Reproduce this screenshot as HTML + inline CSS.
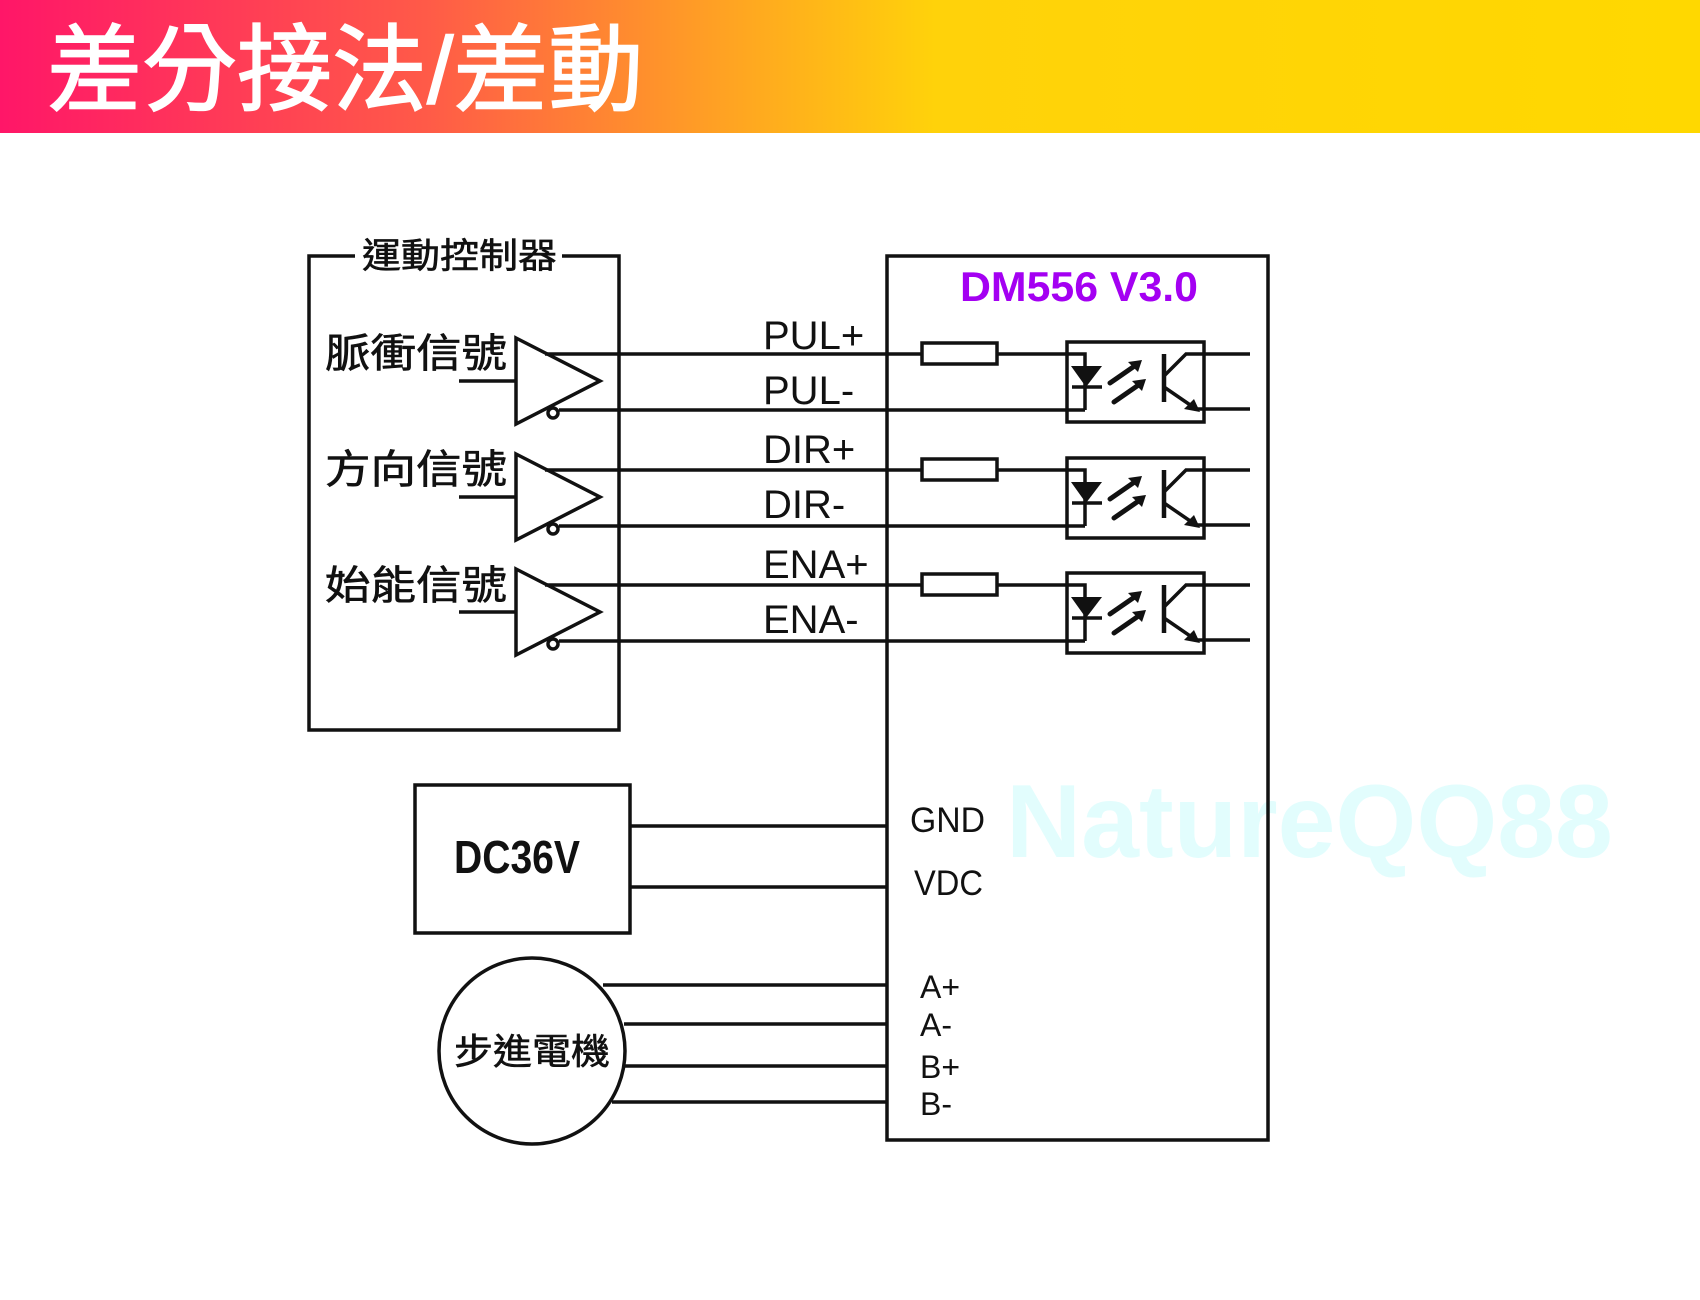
<!DOCTYPE html>
<html><head><meta charset="utf-8"><style>
html,body{margin:0;padding:0;background:#fff;}
body{width:1700px;height:1300px;overflow:hidden;position:relative;font-family:"Liberation Sans","Noto Sans CJK TC",sans-serif;}
.bar{position:absolute;left:0;top:0;width:1700px;height:133px;background:linear-gradient(90deg,#ff1668 0%,#ff5a48 25%,#ffa024 42%,#ffd20a 55%,#ffd800 100%);}
.title{position:absolute;left:47px;top:16px;font-size:95px;color:#fff;font-family:"Liberation Sans","Noto Sans CJK TC",sans-serif;white-space:nowrap;line-height:110px;-webkit-text-stroke:1.5px #fff;}
svg{position:absolute;left:0;top:0;}
</style></head><body>
<div class="bar"></div>
<div class="title">差分接法/差動</div>
<svg width="1700" height="1300" viewBox="0 0 1700 1300" xmlns="http://www.w3.org/2000/svg" font-family="Liberation Sans, Noto Sans CJK TC, sans-serif">
<text x="1006" y="857" font-size="104" font-weight="bold" fill="#e2fdfd">NatureQQ88</text>
<g stroke="#111" stroke-width="3.5" fill="none">
<polyline points="355,256 309,256 309,730 619,730 619,256 562,256"/>
<rect x="887" y="256" width="381" height="884"/>
<rect x="415" y="785" width="215" height="148"/>
<line x1="630" y1="826" x2="887" y2="826"/>
<line x1="630" y1="887" x2="887" y2="887"/>
<circle cx="532" cy="1051" r="93"/>
<line x1="603" y1="985" x2="887" y2="985"/>
<line x1="624" y1="1024" x2="887" y2="1024"/>
<line x1="624" y1="1066" x2="887" y2="1066"/>
<line x1="612" y1="1102" x2="887" y2="1102"/>
</g>
<defs>
<g id="row">
<g stroke="#111" stroke-width="3.5" fill="none">
<line x1="459" y1="381" x2="516" y2="381"/>
<polygon points="516,338 600,381 516,424" fill="#fff"/>
<circle cx="553" cy="413" r="5" fill="#fff"/>
<line x1="545" y1="354" x2="922" y2="354"/>
<line x1="559" y1="410" x2="1085" y2="410"/>
<rect x="922" y="343" width="75" height="21"/>
<polyline points="997,354 1085,354 1085,410"/>
<rect x="1067" y="342" width="137" height="80"/>
<line x1="1072" y1="387" x2="1102" y2="387"/>
<line x1="1164" y1="354" x2="1164" y2="402" stroke-width="4.5"/>
<polyline points="1164,376 1186,354 1250,354"/>
<polyline points="1164,387 1196,409 1250,409"/>
<line x1="1110" y1="383" x2="1136" y2="365" stroke-width="5" stroke-linecap="round"/>
<line x1="1114" y1="402" x2="1140" y2="384" stroke-width="5" stroke-linecap="round"/>
</g>
<polygon points="1071,366 1102,366 1086,387" fill="#111"/>
<polygon points="1142,360 1128,362 1138,372" fill="#111"/>
<polygon points="1146,379 1132,381 1142,391" fill="#111"/>
<polygon points="1200,412 1184,409 1194,399" fill="#111"/>
</g>
</defs>
<use href="#row"/>
<use href="#row" y="116"/>
<use href="#row" y="231"/>
<g fill="#111" font-size="40">
<text x="763" y="349">PUL+</text>
<text x="763" y="404">PUL-</text>
<text x="763" y="463">DIR+</text>
<text x="763" y="518">DIR-</text>
<text x="763" y="578">ENA+</text>
<text x="763" y="633">ENA-</text>
</g>
<g fill="#111" font-size="40" stroke="#111" stroke-width="0.6">
<text x="325" y="367" textLength="182" lengthAdjust="spacingAndGlyphs">脈衝信號</text>
<text x="325" y="483" textLength="182" lengthAdjust="spacingAndGlyphs">方向信號</text>
<text x="325" y="599" textLength="182" lengthAdjust="spacingAndGlyphs">始能信號</text>
<text x="362" y="268" font-size="35" textLength="195" lengthAdjust="spacingAndGlyphs">運動控制器</text>
<text x="454" y="1064" font-size="36" textLength="156" lengthAdjust="spacingAndGlyphs">步進電機</text>
</g>
<text x="960" y="301" font-size="42" font-weight="bold" fill="#a400f2" textLength="238" lengthAdjust="spacingAndGlyphs">DM556 V3.0</text>
<text x="454" y="873" font-size="46" font-weight="bold" fill="#111" textLength="126" lengthAdjust="spacingAndGlyphs">DC36V</text>
<g fill="#111" font-size="35">
<text x="910" y="832" textLength="75" lengthAdjust="spacingAndGlyphs">GND</text>
<text x="914" y="895" textLength="69" lengthAdjust="spacingAndGlyphs">VDC</text>
</g>
<g fill="#111" font-size="32">
<text x="920" y="998">A+</text>
<text x="920" y="1036">A-</text>
<text x="920" y="1078">B+</text>
<text x="920" y="1115">B-</text>
</g>
</svg>
</body></html>
